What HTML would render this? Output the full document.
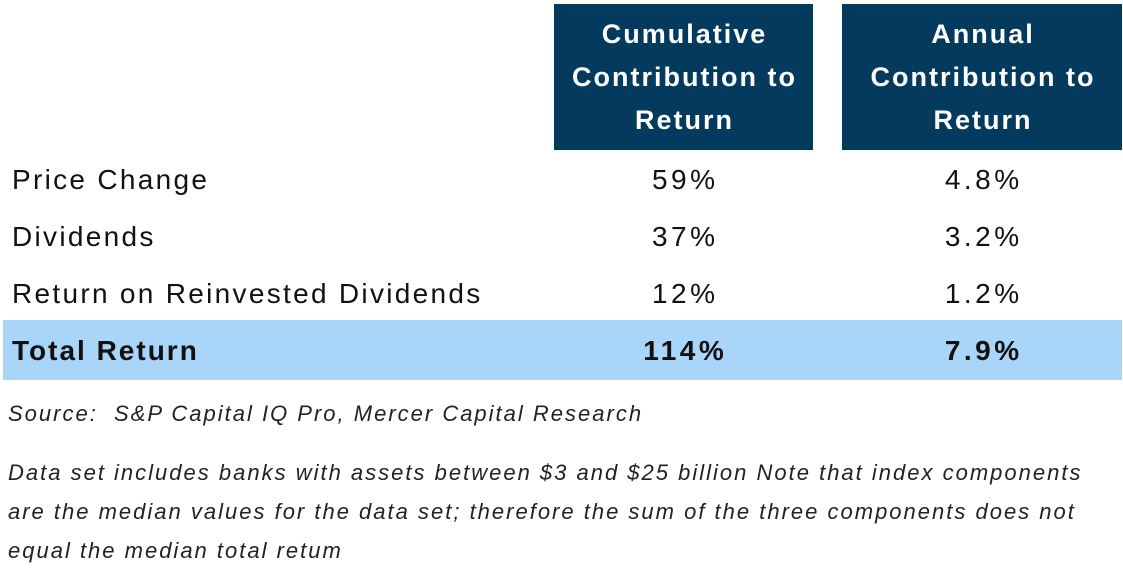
<!DOCTYPE html>
<html><head><meta charset="utf-8"><style>
body{margin:0;width:1123px;height:575px;background:#fff;position:relative;overflow:hidden;font-family:"Liberation Sans",Arial,sans-serif;color:#111}
.h{position:absolute;top:4px;height:146px;background:#033a5d;color:#fff;font-weight:bold;font-size:27px;line-height:43px;text-align:center;display:flex;align-items:center;justify-content:center;letter-spacing:2px;padding-left:2px;box-sizing:border-box}
.row{position:absolute;left:0;width:1123px;height:56px;font-size:28px;line-height:56px}
.row span{position:absolute}
.l{left:12px;letter-spacing:2.3px}
.c1,.c2{letter-spacing:3.5px;padding-left:3.5px;box-sizing:border-box}
.c1{left:554px;width:259px;text-align:center}
.c2{left:842px;width:280px;text-align:center}
.total{background:#a8d5f8;font-weight:bold;left:3px;width:1119px;height:60px;line-height:62px}
.total .l{left:9px;letter-spacing:2px}.total .c1{left:551px}.total .c2{left:839px}
.note{position:absolute;left:8px;font-style:italic;font-size:22px;color:#222;letter-spacing:2px}
</style></head><body>
<div class="h" style="left:554px;width:259px">Cumulative<br>Contribution to<br>Return</div>
<div class="h" style="left:842px;width:280px">Annual<br>Contribution to<br>Return</div>
<div class="row" style="top:152px"><span class="l">Price Change</span><span class="c1">59%</span><span class="c2">4.8%</span></div>
<div class="row" style="top:209px"><span class="l">Dividends</span><span class="c1">37%</span><span class="c2">3.2%</span></div>
<div class="row" style="top:266px"><span class="l">Return on Reinvested Dividends</span><span class="c1">12%</span><span class="c2">1.2%</span></div>
<div class="row total" style="top:320px"><span class="l">Total Return</span><span class="c1">114%</span><span class="c2">7.9%</span></div>
<div class="note" style="top:401px">Source:&nbsp; S&amp;P Capital IQ Pro, Mercer Capital Research</div>
<div class="note" style="top:453px;line-height:39px">Data set includes banks with assets between $3 and $25 billion Note that index components<br>are the median values for the data set; therefore the sum of the three components does not<br>equal the median total retum</div>
</body></html>
